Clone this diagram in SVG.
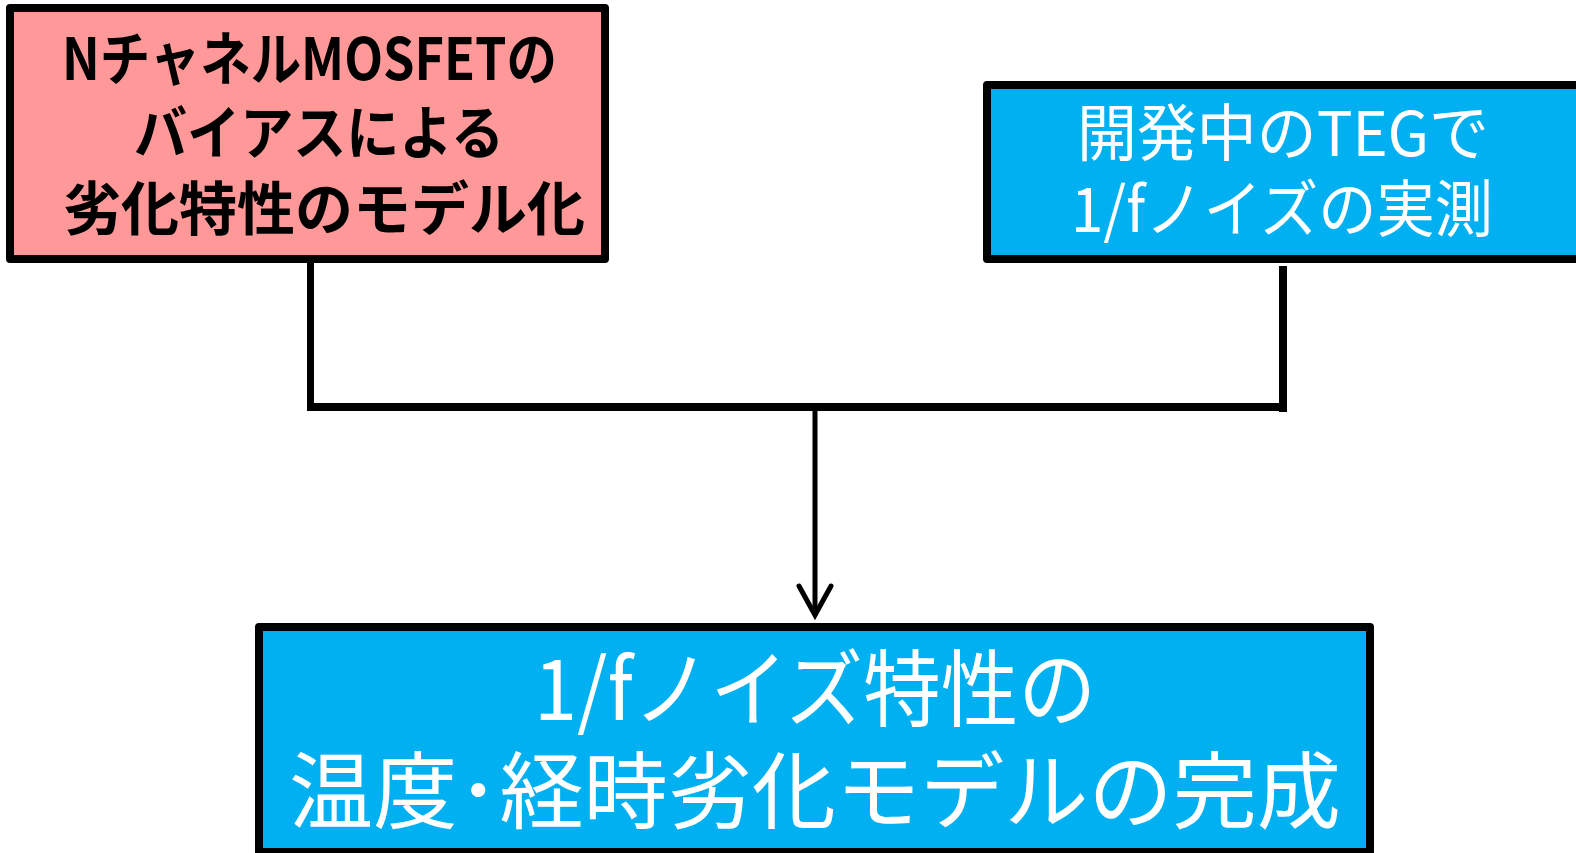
<svg xmlns="http://www.w3.org/2000/svg" width="1576" height="853" viewBox="0 0 1576 853">
<style>
.box{stroke:#000;stroke-width:8;stroke-linejoin:round}
.pink{fill:#FF9999}
.blue{fill:#00B0F0}
.tb{font-family:"Noto Sans CJK JP","Noto Sans",sans-serif;font-weight:bold;fill:#000;font-size:58px}
.tw{font-family:"Noto Sans CJK JP","Noto Sans",sans-serif;fill:#fff;text-anchor:middle}
.conn{stroke:#000;fill:none}
</style>
<rect width="1576" height="853" fill="#fff"/>
<g id="connectors">
<line class="conn" x1="310.5" y1="262" x2="310.5" y2="411" stroke-width="7"/>
<line class="conn" x1="307" y1="407" x2="1287" y2="407" stroke-width="8"/>
<line class="conn" x1="1283" y1="266" x2="1283" y2="412" stroke-width="8"/>
<line class="conn" x1="815" y1="410" x2="815" y2="612" stroke-width="5"/>
<path class="conn" d="M799,586 L815,615 L831,586" stroke-width="5" stroke-linecap="round" stroke-linejoin="miter"/>
</g>
<g id="node-left">
<rect class="box pink" x="10" y="8" width="595" height="251"/>
<text class="tb" x="62" y="80" textLength="495" lengthAdjust="spacingAndGlyphs">NチャネルMOSFETの</text>
<text class="tb" x="134" y="154" textLength="370" lengthAdjust="spacingAndGlyphs">バイアスによる</text>
<text class="tb" x="63" y="230" textLength="522" lengthAdjust="spacingAndGlyphs">劣化特性のモデル化</text>
</g>
<g id="node-right">
<rect class="box blue" x="987" y="85" width="620" height="174"/>
<text class="tw" x="1283" y="156" font-size="62" textLength="412" lengthAdjust="spacingAndGlyphs">開発中のTEGで</text>
<text class="tw" x="1282" y="232" font-size="62" textLength="422" lengthAdjust="spacingAndGlyphs">1/fノイズの実測</text>
</g>
<g id="node-bottom">
<rect class="box blue" x="259" y="627" width="1111" height="225"/>
<text class="tw" x="815" y="720" font-size="84" textLength="562" lengthAdjust="spacingAndGlyphs">1/fノイズ特性の</text>
<text class="tw" x="815" y="822" font-size="84" textLength="1052" lengthAdjust="spacingAndGlyphs">温度･経時劣化モデルの完成</text>
</g>
</svg>
